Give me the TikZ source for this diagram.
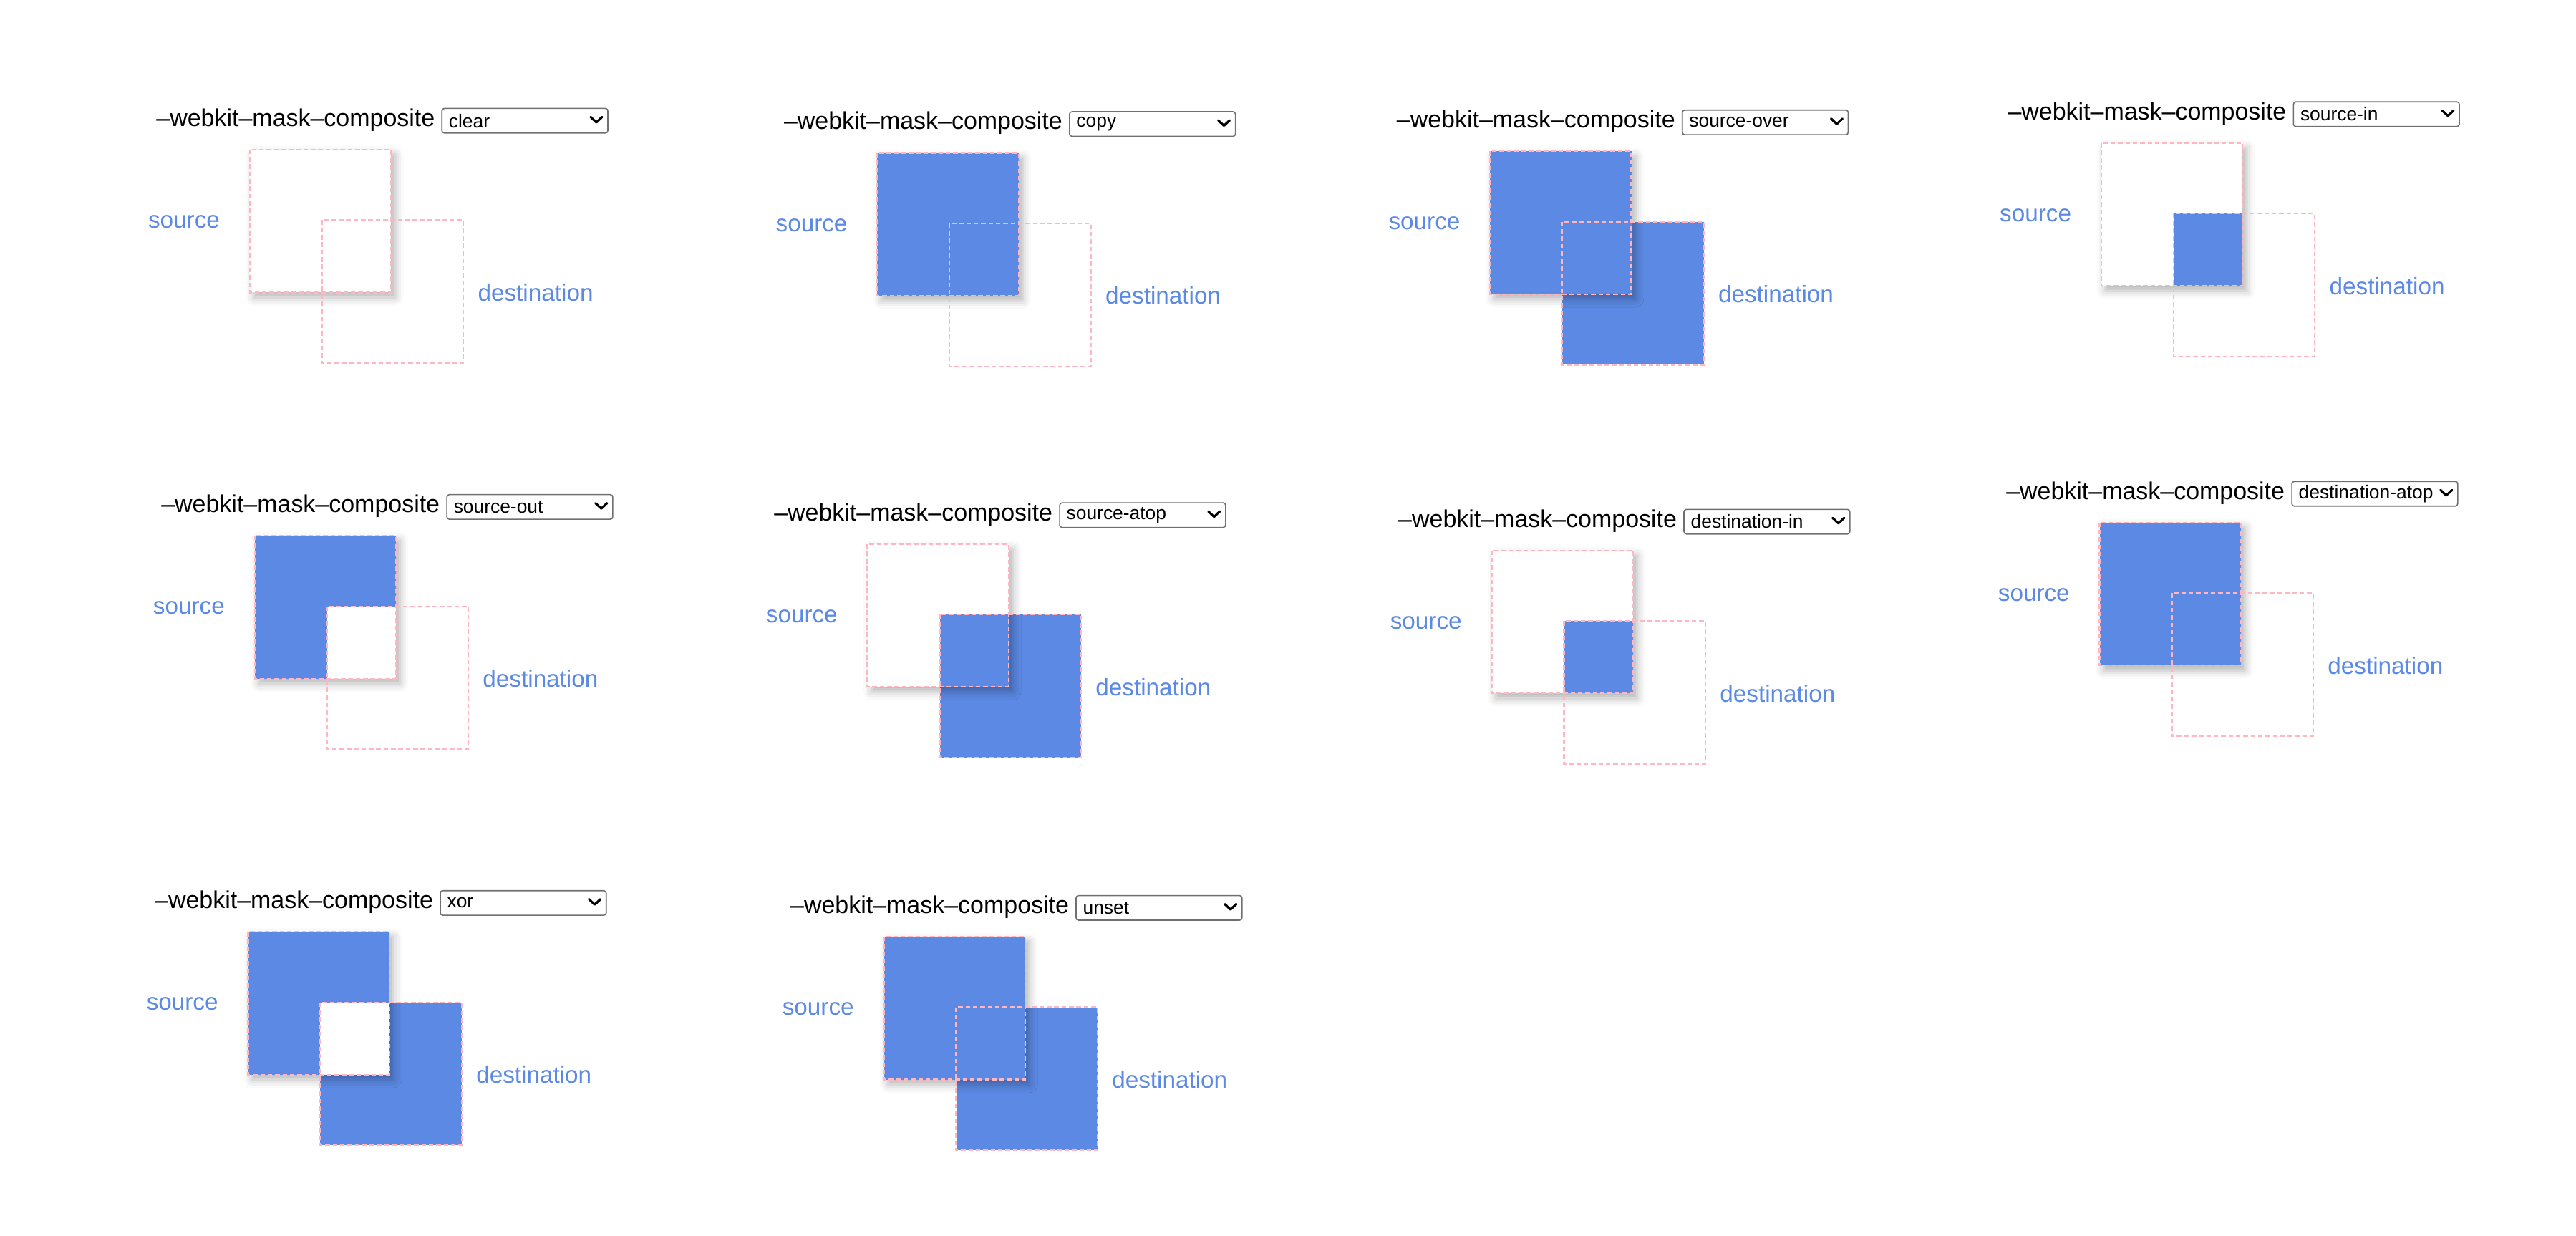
\documentclass[tikz,border=0pt]{standalone}
\usepackage{fontspec}
\setmainfont{Liberation Sans}
\usepackage{tikz}
\usetikzlibrary{shadows.blur}
\definecolor{maskblue}{RGB}{91,137,228}
\definecolor{edgepink}{RGB}{255,182,193}
\definecolor{selgray}{RGB}{112,112,112}

\begin{document}
\begin{tikzpicture}[x=1pt, y=-1pt,
    heading/.style={anchor=west, inner sep=0pt, font=\fontsize{14.8}{17}\selectfont},
    seltext/.style={anchor=west, inner sep=0pt, font=\fontsize{11.5}{13}\selectfont},
    selbox/.style={draw=selgray, line width=0.7pt, rounded corners=1.5pt},
    chevron/.style={line width=1.4pt, line cap=round, line join=round},
    lbl/.style={text=maskblue, inner sep=0pt, font=\fontsize{14.5}{17}\selectfont},
    frame/.style={draw=edgepink, line width=1pt, dash pattern=on 2.8pt off 1.7pt},
    lifted/.style={blur shadow={shadow xshift=2.5pt, shadow yshift=-3pt, shadow blur radius=5pt, shadow opacity=30}}]

\useasboundingbox (0,0) rectangle (1568,752);

% clear
\node [heading] (head1) at (152-57, 91-18) {–webkit–mask–composite};
\draw [selbox] (152+117, 91-25) rectangle (152+218, 91-10);
\node [seltext] (sel1) at (152+121, 91-17.5) {clear};
\draw [chevron] (152+207.5, 91-19.8) -- (152+211, 91-16.5) -- (152+214.5, 91-19.8);
\fill [white, lifted] (152, 91) rectangle (152+86, 91+87);
\draw [frame] (152+44, 91+43) rectangle (152+130, 91+130);
\draw [frame] (152, 91) rectangle (152+86, 91+87);
\node [lbl] (src1) at (152-40, 91+44) {source};
\node [lbl] (dst1) at (152+174, 91+87) {destination};

% copy
\node [heading] (head2) at (534-57, 93-18) {–webkit–mask–composite};
\draw [selbox] (534+117, 93-25) rectangle (534+218, 93-10);
\node [seltext] (sel2) at (534+121, 93-17.5) {copy};
\draw [chevron] (534+207.5, 93-19.8) -- (534+211, 93-16.5) -- (534+214.5, 93-19.8);
\fill [maskblue, lifted] (534, 93) rectangle (534+86, 93+87);
\draw [frame] (534+44, 93+43) rectangle (534+130, 93+130);
\draw [frame] (534, 93) rectangle (534+86, 93+87);
\node [lbl] (src2) at (534-40, 93+44) {source};
\node [lbl] (dst2) at (534+174, 93+87) {destination};

% source-over
\node [heading] (head3) at (907-57, 92-18) {–webkit–mask–composite};
\draw [selbox] (907+117, 92-25) rectangle (907+218, 92-10);
\node [seltext] (sel3) at (907+121, 92-17.5) {source-over};
\draw [chevron] (907+207.5, 92-19.8) -- (907+211, 92-16.5) -- (907+214.5, 92-19.8);
\fill [maskblue] (907+44, 92+43) rectangle (907+130, 92+130);
\fill [maskblue, lifted] (907, 92) rectangle (907+86, 92+87);
\draw [frame] (907+44, 92+43) rectangle (907+130, 92+130);
\draw [frame] (907, 92) rectangle (907+86, 92+87);
\node [lbl] (src3) at (907-40, 92+44) {source};
\node [lbl] (dst3) at (907+174, 92+87) {destination};

% source-in
\node [heading] (head4) at (1279-57, 87-18) {–webkit–mask–composite};
\draw [selbox] (1279+117, 87-25) rectangle (1279+218, 87-10);
\node [seltext] (sel4) at (1279+121, 87-17.5) {source-in};
\draw [chevron] (1279+207.5, 87-19.8) -- (1279+211, 87-16.5) -- (1279+214.5, 87-19.8);
\fill [white, lifted] (1279, 87) rectangle (1279+86, 87+87);
\fill [maskblue] (1279+44, 87+43) rectangle (1279+86, 87+87);
\draw [frame] (1279+44, 87+43) rectangle (1279+130, 87+130);
\draw [frame] (1279, 87) rectangle (1279+86, 87+87);
\node [lbl] (src4) at (1279-40, 87+44) {source};
\node [lbl] (dst4) at (1279+174, 87+87) {destination};

% ------------------------------------------------------
% source-out
\node [heading] (head5) at (155-57, 326-18) {–webkit–mask–composite};
\draw [selbox] (155+117, 326-25) rectangle (155+218, 326-10);
\node [seltext] (sel5) at (155+121, 326-17.5) {source-out};
\draw [chevron] (155+207.5, 326-19.8) -- (155+211, 326-16.5) -- (155+214.5, 326-19.8);
\fill [maskblue, lifted] (155, 326) rectangle (155+86, 326+87);
\fill [white] (155+44, 326+43) rectangle (155+86, 326+87);
\draw [frame] (155+44, 326+43) rectangle (155+130, 326+130);
\draw [frame] (155, 326) rectangle (155+86, 326+87);
\node [lbl] (src5) at (155-40, 326+44) {source};
\node [lbl] (dst5) at (155+174, 326+87) {destination};

% source-atop
\node [heading] (head6) at (528-57, 331-18) {–webkit–mask–composite};
\draw [selbox] (528+117, 331-25) rectangle (528+218, 331-10);
\node [seltext] (sel6) at (528+121, 331-17.5) {source-atop};
\draw [chevron] (528+207.5, 331-19.8) -- (528+211, 331-16.5) -- (528+214.5, 331-19.8);
\fill [maskblue] (528+44, 331+43) rectangle (528+130, 331+130);
\fill [white, lifted] (528, 331) rectangle (528+86, 331+87);
\fill [maskblue] (528+44, 331+43) rectangle (528+86, 331+87);
\draw [frame] (528+44, 331+43) rectangle (528+130, 331+130);
\draw [frame] (528, 331) rectangle (528+86, 331+87);
\node [lbl] (src6) at (528-40, 331+44) {source};
\node [lbl] (dst6) at (528+174, 331+87) {destination};

% destination-in
\node [heading] (head7) at (908-57, 335-18) {–webkit–mask–composite};
\draw [selbox] (908+117, 335-25) rectangle (908+218, 335-10);
\node [seltext] (sel7) at (908+121, 335-17.5) {destination-in};
\draw [chevron] (908+207.5, 335-19.8) -- (908+211, 335-16.5) -- (908+214.5, 335-19.8);
\fill [white, lifted] (908, 335) rectangle (908+86, 335+87);
\fill [maskblue] (908+44, 335+43) rectangle (908+86, 335+87);
\draw [frame] (908+44, 335+43) rectangle (908+130, 335+130);
\draw [frame] (908, 335) rectangle (908+86, 335+87);
\node [lbl] (src7) at (908-40, 335+44) {source};
\node [lbl] (dst7) at (908+174, 335+87) {destination};

% destination-atop
\node [heading] (head8) at (1278-57, 318-18) {–webkit–mask–composite};
\draw [selbox] (1278+117, 318-25) rectangle (1278+218, 318-10);
\node [seltext] (sel8) at (1278+121, 318-17.5) {destination-atop};
\draw [chevron] (1278+207.5, 318-19.8) -- (1278+211, 318-16.5) -- (1278+214.5, 318-19.8);
\fill [maskblue, lifted] (1278, 318) rectangle (1278+86, 318+87);
\draw [frame] (1278+44, 318+43) rectangle (1278+130, 318+130);
\draw [frame] (1278, 318) rectangle (1278+86, 318+87);
\node [lbl] (src8) at (1278-40, 318+44) {source};
\node [lbl] (dst8) at (1278+174, 318+87) {destination};

% ------------------------------------------------------
% xor
\node [heading] (head9) at (151-57, 567-18) {–webkit–mask–composite};
\draw [selbox] (151+117, 567-25) rectangle (151+218, 567-10);
\node [seltext] (sel9) at (151+121, 567-17.5) {xor};
\draw [chevron] (151+207.5, 567-19.8) -- (151+211, 567-16.5) -- (151+214.5, 567-19.8);
\fill [maskblue] (151+44, 567+43) rectangle (151+130, 567+130);
\fill [maskblue, lifted] (151, 567) rectangle (151+86, 567+87);
\fill [white] (151+44, 567+43) rectangle (151+86, 567+87);
\draw [frame] (151+44, 567+43) rectangle (151+130, 567+130);
\draw [frame] (151, 567) rectangle (151+86, 567+87);
\node [lbl] (src9) at (151-40, 567+44) {source};
\node [lbl] (dst9) at (151+174, 567+87) {destination};

% unset
\node [heading] (head10) at (538-57, 570-18) {–webkit–mask–composite};
\draw [selbox] (538+117, 570-25) rectangle (538+218, 570-10);
\node [seltext] (sel10) at (538+121, 570-17.5) {unset};
\draw [chevron] (538+207.5, 570-19.8) -- (538+211, 570-16.5) -- (538+214.5, 570-19.8);
\fill [maskblue] (538+44, 570+43) rectangle (538+130, 570+130);
\fill [maskblue, lifted] (538, 570) rectangle (538+86, 570+87);
\draw [frame] (538+44, 570+43) rectangle (538+130, 570+130);
\draw [frame] (538, 570) rectangle (538+86, 570+87);
\node [lbl] (src10) at (538-40, 570+44) {source};
\node [lbl] (dst10) at (538+174, 570+87) {destination};

\end{tikzpicture}
\end{document}
